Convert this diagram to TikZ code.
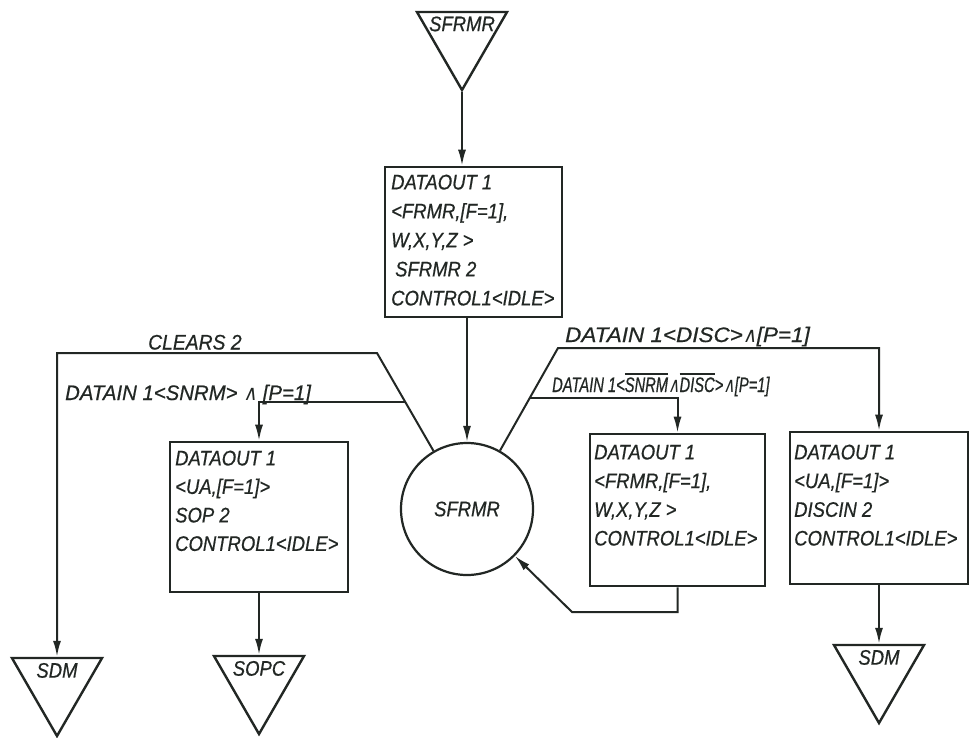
\documentclass[tikz,border=0pt]{standalone}
\usepackage{fontspec}
\setmainfont{Liberation Sans}[FakeStretch=0.88,FakeBold=0.6]
% the same lettering, set wider or narrower for the transition labels
\newfontfamily\clrf{Liberation Sans}[FakeStretch=0.92,FakeBold=0.6]
\newfontfamily\snrmf{Liberation Sans}[FakeStretch=0.97,FakeBold=0.6]
\newfontfamily\discf{Liberation Sans}[FakeStretch=1.07,FakeBold=0.6]
\newfontfamily\nsndf{Liberation Sans}[FakeStretch=0.7,FakeBold=0.6]
\newfontfamily\symf{DejaVu Sans}[FakeSlant=0.18,FakeStretch=0.9]
\newfontfamily\symnf{DejaVu Sans}[FakeSlant=0.18,FakeStretch=0.75]
\usetikzlibrary{arrows.meta,shapes.geometric,calc}
\definecolor{ink}{RGB}{34,39,36}
% overlined group of letters
\newcommand\ovl[1]{\vbox{\hrule height 1.5pt\kern 2.6pt\hbox{#1}}}
% logical and
\newcommand\AND{{\symf ∧}}
\newcommand\ANDn{{\symnf ∧}}
\begin{document}
\begin{tikzpicture}[x=1pt,y=-1pt,
  lett/.style={font=\fontsize{21}{28.7}\selectfont\itshape, text=ink, inner sep=0pt},
  blk/.style={lett, align=left, anchor=north west},
  box/.style={draw=ink, line width=2.6pt, rectangle, inner sep=0pt},
  tri/.style={draw=ink, line width=2.4pt, regular polygon, regular polygon sides=3,
              shape border rotate=180, minimum size=104pt, inner sep=0pt},
  state/.style={draw=ink, circle, line width=2.2pt, minimum size=132pt, lett},
  conn/.style={draw=ink, line width=2pt},
  arr/.style={conn, -{Latex[length=16pt,width=8pt]}},
  lbl/.style={lett, anchor=base west}]
\useasboundingbox[fill=white] (0,0) rectangle (971,737);

% entry and exit states
\node[tri] (tin)  at (462,38)  {};
\node[tri] (sdmL) at (57,684)  {};
\node[tri] (sopc) at (259,682) {};
\node[tri] (sdmR) at (879,671) {};
\node[lett, anchor=north] (tinl)  at ($(tin.north)+(0,5.5)$)  {SFRMR};
\node[lett, anchor=north] (sdmLl) at ($(sdmL.north)+(0,6)$)  {SDM};
\node[lett, anchor=north] (sopcl) at ($(sopc.north)+(0,6)$)  {SOPC};
\node[lett, anchor=north] (sdmRl) at ($(sdmR.north)+(0,6)$)  {SDM};

% the state itself
\node[state] (circ) at (467,509) {SFRMR};

% action boxes
\node[box, minimum width=177pt, minimum height=150pt] (mbox)  at (473.5,242) {};
\node[box, minimum width=178pt, minimum height=150pt] (lbox)  at (259,517)   {};
\node[box, minimum width=175pt, minimum height=152pt] (mrbox) at (677.5,510) {};
\node[box, minimum width=178pt, minimum height=152pt] (rbox)  at (879,508)   {};

\node[blk, font=\fontsize{21}{29}\selectfont\itshape] (mtxt) at (391,174.5)
  {DATAOUT 1\\<FRMR,[F=1],\\W,X,Y,Z >\\\hspace{4pt}SFRMR 2\\CONTROL1<IDLE>};
\node[blk, font=\fontsize{21}{28.5}\selectfont\itshape] (ltxt) at (175,450.5)
  {DATAOUT 1\\<UA,[F=1]>\\SOP 2\\CONTROL1<IDLE>};
\node[blk] (mrtxt) at (594,444.5)
  {DATAOUT 1\\<FRMR,[F=1],\\W,X,Y,Z >\\CONTROL1<IDLE>};
\node[blk] (rtxt) at (794,444.5)
  {DATAOUT 1\\<UA,[F=1]>\\DISCIN 2\\CONTROL1<IDLE>};

% branch points
\coordinate (cA) at (377,353);
\coordinate (bA) at (406,402);
\coordinate (cB) at (558,348);
\coordinate (bB) at (530,398);
\coordinate (cC) at (572,612);

% transition labels
\node[lbl] (clr)  at (148,349.5) {\clrf\itshape CLEARS 2};
\node[lbl] (snrm) at (65,400)    {\snrmf\itshape DATAIN 1<SNRM> \AND\ [P=1]};
\node[lbl] (disc) at (565,342)   {\discf\itshape DATAIN 1<DISC>\AND[P=1]};
\node[lbl] (nsnd) at (552,392)   {\nsndf\itshape DATAIN 1<\ovl{SNRM}\ANDn\ovl{DISC}>\ANDn[P=1]};

% connectors
\draw[arr] (tin.south) -- (tin.south |- mbox.north);
\draw[arr] (mbox.south -| circ.north) -- (circ.north);
\draw[arr] (circ) -- (cA) -| (sdmL.north);
\draw[arr] (bA) -| (lbox.north);
\draw[arr] (circ) -- (cB) -| (rbox.north);
\draw[arr] (bB) -| (mrbox.north);
\draw[arr] (mrbox.south) |- (cC) -- (circ);
\draw[arr] (lbox.south) -- (lbox.south |- sopc.north);
\draw[arr] (rbox.south) -- (rbox.south |- sdmR.north);
\end{tikzpicture}
\end{document}
